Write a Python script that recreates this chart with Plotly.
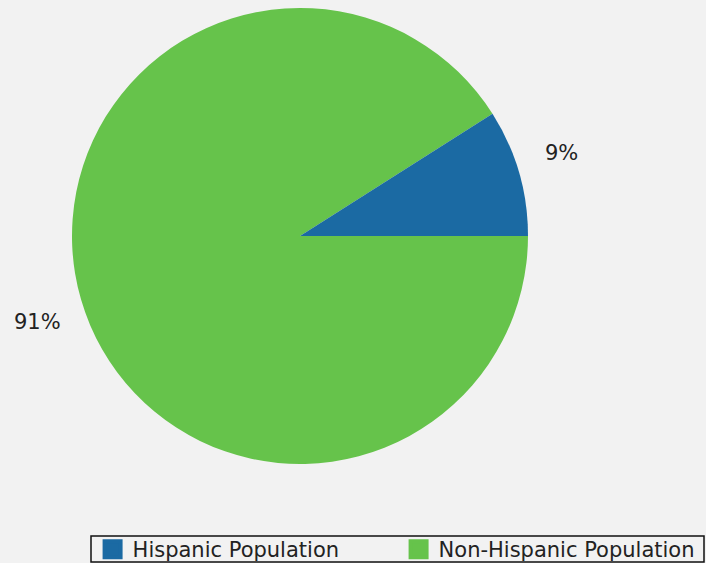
import plotly.graph_objects as go

# Population share by ethnicity
categories = ["Hispanic Population", "Non-Hispanic Population"]
shares = [9, 91]
colors = ["#1b6aa3", "#66c34b"]

W, H = 706, 563
cx, cy, r = 300, 236, 228
BG = "#f2f2f2"
FONT = "DejaVu Sans"
TXT = "#222222"

# Centre points (pixels) of the outside percentage labels
label_pos = [(561, 153), (37, 322)]

fig = go.Figure()

# Pie drawn with the larger slice first so the small slice sits just above 3 o'clock
fig.add_trace(
    go.Pie(
        labels=categories[::-1],
        values=shares[::-1],
        sort=False,
        direction="clockwise",
        rotation=90,
        marker=dict(colors=colors[::-1], line=dict(width=0)),
        textinfo="none",
        hoverinfo="label+percent",
        showlegend=False,
        domain=dict(
            x=[(cx - r) / W, (cx + r) / W],
            y=[(H - (cy + r)) / H, (H - (cy - r)) / H],
        ),
    )
)

# Percentage labels
for val, (px, py) in zip(shares, label_pos):
    fig.add_annotation(
        x=px / W, y=1 - py / H, xref="paper", yref="paper",
        text=f"{val}%", showarrow=False,
        xanchor="center", yanchor="middle",
        font=dict(family=FONT, size=21, color=TXT),
    )

# Legend entries with large square swatches
for name, col in zip(categories, colors):
    fig.add_trace(
        go.Scatter(
            x=[None],
            y=[None],
            mode="markers",
            name=name,
            marker=dict(symbol="square", size=16, color=col, line=dict(color=col, width=4)),
            showlegend=True,
            hoverinfo="skip",
        )
    )

fig.update_xaxes(visible=False)
fig.update_yaxes(visible=False)

# Thin frame around the legend
fig.add_shape(
    type="rect", xref="paper", yref="paper",
    x0=91 / W, x1=704 / W, y0=1 - 562 / H, y1=1 - 536 / H,
    line=dict(color="#111111", width=1.5), fillcolor="rgba(0,0,0,0)",
    layer="above",
)

fig.update_layout(
    width=W,
    height=H,
    margin=dict(l=0, r=0, t=0, b=0, autoexpand=False),
    paper_bgcolor=BG,
    plot_bgcolor=BG,
    font=dict(family=FONT, size=21, color=TXT),
    legend=dict(
        orientation="h",
        x=0.998,
        xanchor="right",
        y=1 - 549.5 / H,
        yanchor="middle",
        borderwidth=0,
        bgcolor="rgba(0,0,0,0)",
        entrywidth=261,
        tracegroupgap=0,
        font=dict(family=FONT, size=21, color=TXT),
    ),
)

fig.write_html("out.html")
